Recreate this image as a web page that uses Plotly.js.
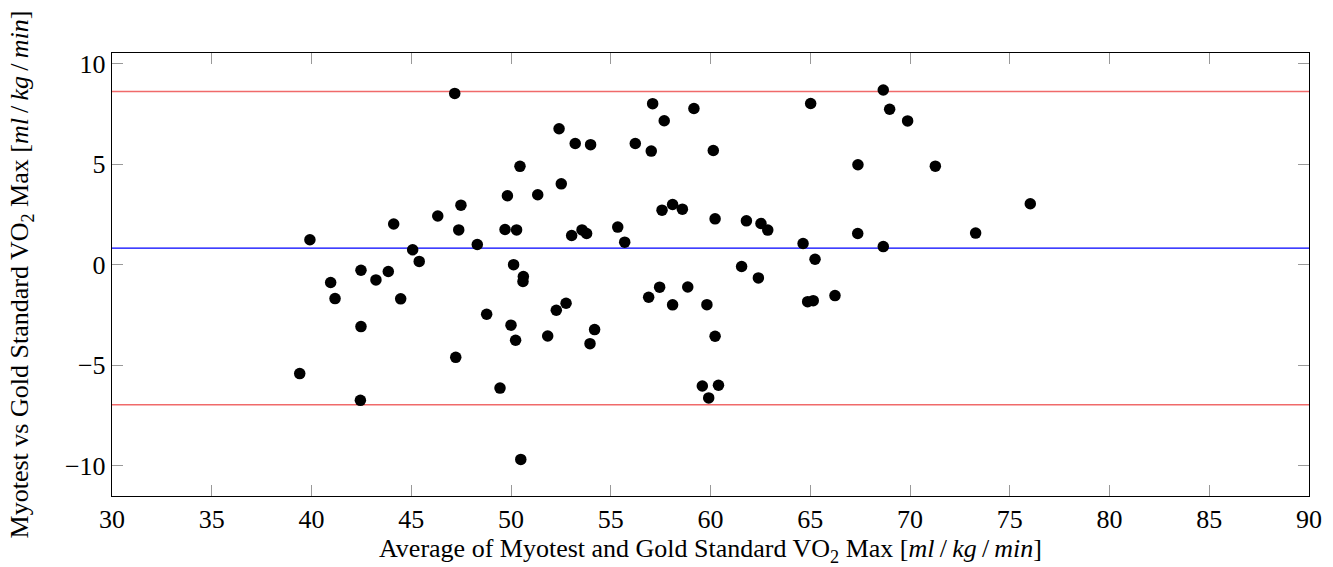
<!DOCTYPE html>
<html>
<head>
<meta charset="utf-8">
<script src="https://cdn.plot.ly/plotly-3.0.1.min.js"></script>
<style>html,body{margin:0;padding:0;background:#fff;}#chart{width:1333px;height:567px;}</style>
</head>
<body>
<div id="chart"></div>
<script>
// Average of the two methods (x) and their difference (y)
const avgVO2 = [39.92,39.41,40.96,41.18,42.48,42.48,42.45,43.23,43.85,44.12,44.47,45.07,45.40,46.33,47.18,47.49,47.38,47.23,48.31,48.78,49.45,49.70,49.82,50.00,50.13,50.28,50.23,50.45,50.62,50.60,50.49,51.34,51.84,52.27,52.41,52.52,52.76,53.04,53.22,53.56,53.79,53.99,54.19,53.96,55.35,55.70,56.23,56.90,57.03,57.10,57.45,57.57,57.68,58.10,58.10,58.59,58.86,59.17,59.59,59.82,59.91,60.14,60.23,60.23,60.40,61.80,61.56,62.53,62.87,62.40,64.64,65.02,65.24,64.87,65.15,66.24,67.39,67.38,68.66,68.66,68.98,69.88,71.27,73.29,76.03];
const diffVO2 = [1.24,-5.42,-0.89,-1.69,-0.28,-3.08,-6.75,-0.76,-0.34,2.02,-1.70,0.74,0.16,2.42,8.52,2.96,1.73,-4.61,1.00,-2.47,-6.14,1.75,3.43,-3.01,0.00,1.73,-3.76,4.89,-0.59,-0.84,-9.69,3.48,-3.55,-2.27,6.76,4.02,-1.92,1.45,6.03,1.73,1.55,5.97,-3.23,-3.93,1.87,1.12,6.03,-1.62,5.65,8.01,-1.12,2.71,7.16,2.99,-2.00,2.76,-1.11,7.77,-6.04,-1.99,-6.63,5.68,2.28,-3.56,-6.00,2.18,-0.09,2.05,1.72,-0.66,1.05,8.02,0.27,-1.84,-1.79,-1.54,4.97,1.55,8.69,0.90,7.73,7.15,4.90,1.57,3.03];
const meanDiff = 0.82;
const upperLoA = 8.62;
const lowerLoA = -6.97;
const xTicks = [30,35,40,45,50,55,60,65,70,75,80,85,90];
const yTicks = [-10,-5,0,5,10];

const font = '"Liberation Serif", "Times New Roman", serif';
const unit = '[<i>ml</i>\u2009/\u2009<i>kg</i>\u2009/\u2009<i>min</i>]';

const trace = {
  x: avgVO2, y: diffVO2, type: 'scatter', mode: 'markers',
  marker: {color: '#000', size: 11.5},
  hoverinfo: 'skip', showlegend: false
};

const hline = (y, color, w) => ({
  type: 'line', xref: 'paper', x0: 0, x1: 1, yref: 'y', y0: y, y1: y,
  line: {color: color, width: w}, layer: 'below'
});

const layout = {
  width: 1333, height: 567,
  margin: {l: 112, r: 24, t: 53, b: 71},
  paper_bgcolor: '#fff', plot_bgcolor: '#fff',
  font: {family: font, color: '#000', size: 26},
  showlegend: false,
  xaxis: {
    range: [30, 90], tickvals: xTicks, ticktext: xTicks.map(String),
    ticks: 'inside', ticklen: 11, tickcolor: '#999', tickwidth: 1,
    showline: true, linecolor: '#000', linewidth: 1.2, mirror: 'ticks',
    showgrid: false, zeroline: false,
    tickfont: {family: font, size: 26, color: '#000'},
    title: {text: 'Average of Myotest and Gold Standard VO<sub>2</sub> Max ' + unit,
            font: {family: font, size: 26, color: '#000'}, standoff: 5}
  },
  yaxis: {
    range: [-11.51, 10.53], tickvals: yTicks,
    ticktext: yTicks.map(v => v < 0 ? '\u2212' + Math.abs(v) : String(v)),
    ticks: 'inside', ticklen: 11, tickcolor: '#999', tickwidth: 1,
    showline: true, linecolor: '#000', linewidth: 1.2, mirror: 'ticks',
    showgrid: false, zeroline: false,
    tickfont: {family: font, size: 26, color: '#000'},
    title: {text: 'Myotest vs Gold Standard VO<sub>2</sub> Max ' + unit,
            font: {family: font, size: 26, color: '#000'}, standoff: 28}
  },
  shapes: [
    hline(upperLoA, '#f06a6a', 1.5),
    hline(lowerLoA, '#f06a6a', 1.5),
    hline(meanDiff, '#0000ff', 1.2)
  ]
};

Plotly.newPlot('chart', [trace], layout, {displayModeBar: false, staticPlot: true});
</script>
</body>
</html>
